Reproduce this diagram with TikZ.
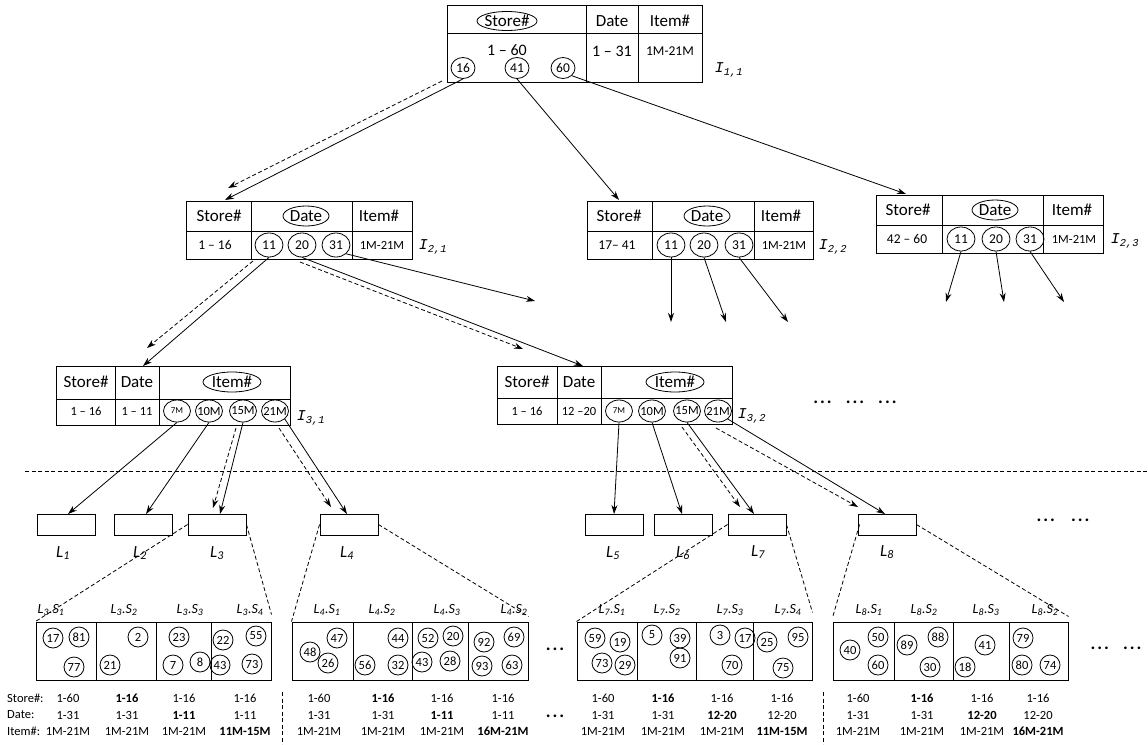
\documentclass[tikz,border=0pt]{standalone}
\usepackage{fontspec}
\setmainfont{Carlito}
\newfontfamily\monof{Liberation Mono}
\usetikzlibrary{arrows.meta,shapes.geometric,calc}
\newcommand{\LS}[2]{\textit{L\textsubscript{#1}.S\textsubscript{#2}}}
\newcommand{\Lf}[1]{\textit{L\textsubscript{#1}}}
\newcommand{\Ilab}[1]{{\monof\itshape I\textsubscript{#1}}}
\newcommand{\fs}[1]{\fontsize{#1}{#1}\selectfont}
\newcommand{\tdots}{.\kern2pt.\kern2pt.}
\begin{document}
\begin{tikzpicture}[x=1pt,y=-1pt,
  tb/.style={draw,line width=1pt},
  box/.style={draw,line width=1pt,inner sep=0pt},
  hd/.style={font=\fs{17},inner sep=0pt},
  na/.style={font=\fs{16},inner sep=0pt},
  nb/.style={font=\fs{13.5},inner sep=0pt},
  nc/.style={font=\fs{12.5},inner sep=0pt},
  ov/.style={draw,ellipse,line width=0.8pt,inner xsep=-6pt,inner ysep=-5pt,minimum width=24pt,minimum height=21pt,font=\fs{13.5}},
  ovb/.style={ov,minimum width=28pt,minimum height=24pt},
  ovc/.style={ov,minimum width=27pt,minimum height=22pt,font=\fs{12.5}},
  ar/.style={-{Stealth[length=9pt,width=6pt]},line width=0.8pt},
  dar/.style={ar,dash pattern=on 4pt off 2.5pt},
  dl/.style={line width=0.8pt,dash pattern=on 4pt off 2.5pt},
  leaf/.style={draw,line width=0.9pt,minimum width=58pt,minimum height=21pt,inner sep=0pt},
  sc/.style={draw,circle,line width=0.8pt,minimum size=20pt,inner sep=0pt,font=\fs{12.5}},
  sh/.style={font=\fs{14},inner sep=0pt},
  bt/.style={font=\fs{12.5},inner sep=0pt},
  lab/.style={font=\fs{15},inner sep=0pt},
  lfl/.style={font=\fs{17},inner sep=0pt},
  dots/.style={font=\fs{18}\bfseries,inner sep=0pt}]
\useasboundingbox (0,0) rectangle (1148,744);

% ---------------- I_{1,1}
\node[box,minimum width=255pt,minimum height=77pt] (N11) at (574.5,43.5) {};
\draw[tb] (447,33) -- (702,33) (586,5) -- (586,82) (638,5) -- (638,82);
\node[hd] (h11a) at (507,21) {Store\#};
\draw[line width=0.8pt] (h11a.center) ellipse [x radius=30pt,y radius=9.5pt];
\node[hd] (h11b) at (612,21) {Date};
\node[hd] (h11c) at (670,21) {Item\#};
\node[na] (v11a) at (507,50) {1 – 60};
\node[na] (v11b) at (612,51) {1 – 31};
\node[nb] (v11c) at (670,51) {1M-21M};
\node[ov] (c16) at (463,68) {16};
\node[ov] (c41) at (517,68) {41};
\node[ov] (c60) at (563,68) {60};
\node[lab] (I11) at (729,70) {\Ilab{1,1}};

% ---------------- I_{2,1}
\node[box,minimum width=226.5pt,minimum height=58pt] (N21) at (299.25,230) {};
\draw[tb] (186,231) -- (412.5,231) (251.7,201) -- (251.7,259) (352.5,201) -- (352.5,259);
\node[hd] (h21a) at (219,216) {Store\#};
\node[hd] (h21b) at (306,216) {Date};
\draw[line width=0.8pt] (h21b.center) ellipse [x radius=23pt,y radius=10pt];
\node[hd] (h21c) at (379,216) {Item\#};
\node[nb] (v21a) at (215,245) {1 – 16};
\node[ovb] (c21a) at (269,245) {11};
\node[ovb] (c21b) at (302,245) {20};
\node[ovb] (c21c) at (336,245) {31};
\node[nc] (v21b) at (382,245) {1M-21M};
\node[lab] (I21) at (433,247) {\Ilab{2,1}};

% ---------------- I_{2,2}
\node[box,minimum width=226pt,minimum height=58pt] (N22) at (700,230) {};
\draw[tb] (587,231) -- (813,231) (652,201) -- (652,259) (754.5,201) -- (754.5,259);
\node[hd] (h22a) at (619,216) {Store\#};
\node[hd] (h22b) at (707,216) {Date};
\draw[line width=0.8pt] (h22b.center) ellipse [x radius=23pt,y radius=10pt];
\node[hd] (h22c) at (781,216) {Item\#};
\node[nb] (v22a) at (617,245) {17– 41};
\node[ovb] (c22a) at (671,245) {11};
\node[ovb] (c22b) at (704,245) {20};
\node[ovb] (c22c) at (739,245) {31};
\node[nc] (v22b) at (784,245) {1M-21M};
\node[lab] (I22) at (833,247) {\Ilab{2,2}};

% ---------------- I_{2,3}
\node[box,minimum width=227pt,minimum height=58pt] (N23) at (989.5,224) {};
\draw[tb] (876,225) -- (1103,225) (942,195) -- (942,253) (1043,195) -- (1043,253);
\node[hd] (h23a) at (908,210) {Store\#};
\node[hd] (h23b) at (995,210) {Date};
\draw[line width=0.8pt] (h23b.center) ellipse [x radius=23pt,y radius=10pt];
\node[hd] (h23c) at (1072,210) {Item\#};
\node[nb] (v23a) at (907,239) {42 – 60};
\node[ovb] (c23a) at (961,239) {11};
\node[ovb] (c23b) at (996,239) {20};
\node[ovb] (c23c) at (1030,239) {31};
\node[nc] (v23b) at (1074,239) {1M-21M};
\node[lab] (I23) at (1125,241) {\Ilab{2,3}};

% ---------------- I_{3,1}
\node[box,minimum width=234pt,minimum height=59pt] (N31) at (173,395.5) {};
\draw[tb] (56,399) -- (290,399) (115,366) -- (115,425) (159.5,366) -- (159.5,425);
\node[hd] (h31a) at (86,382) {Store\#};
\node[hd] (h31b) at (137,382) {Date};
\node[hd] (h31c) at (232,382) {Item\#};
\draw[line width=0.8pt] (h31c.center) ellipse [x radius=29pt,y radius=10pt];
\node[nc] (v31a) at (86,411) {1 – 16};
\node[nc] (v31b) at (137,411) {1 – 11};
\node[ovc,font=\fs{9}] (c31a) at (177,411) {7M};
\node[ovc] (c31b) at (209,411) {10M};
\node[ovc] (c31c) at (243,411) {15M};
\node[ovc] (c31d) at (275,411) {21M};
\node[lab] (I31) at (311,418) {\Ilab{3,1}};

% ---------------- I_{3,2}
\node[box,minimum width=235pt,minimum height=58pt] (N32) at (614.5,395) {};
\draw[tb] (497,398) -- (732,398) (557,366) -- (557,424) (601,366) -- (601,424);
\node[hd] (h32a) at (527,382) {Store\#};
\node[hd] (h32b) at (579,382) {Date};
\node[hd] (h32c) at (675,382) {Item\#};
\draw[line width=0.8pt] (h32c.center) ellipse [x radius=29pt,y radius=10pt];
\node[nc] (v32a) at (527,411) {1 – 16};
\node[nc] (v32b) at (579,411) {12 –20};
\node[ovc,font=\fs{9}] (c32a) at (619,411) {7M};
\node[ovc] (c32b) at (652,411) {10M};
\node[ovc] (c32c) at (687,411) {15M};
\node[ovc] (c32d) at (718,411) {21M};
\node[lab] (I32) at (752,416) {\Ilab{3,2}};

\node[dots] (dm) at (855,402) {\tdots\hspace{14pt}\tdots\hspace{14pt}\tdots};

% ---------------- arrows level 1 -> 2
\coordinate (a21) at (225,200);
\coordinate (d1s) at (442,81);
\coordinate (d1e) at (228,188);
\coordinate (a22) at (619,200);
\coordinate (a23) at (906,194);
\draw[ar] (c16.south) -- (a21);
\draw[dar] (d1s) -- (d1e);
\draw[ar] (c41.south) -- (a22);
\draw[ar] (c60.south east) -- (a23);

% ---------------- arrows level 2 -> 3
\coordinate (a31) at (143,366);
\coordinate (d2s) at (253,261);
\coordinate (d2e) at (147,348);
\coordinate (a32) at (583,366);
\coordinate (d3s) at (300,262);
\coordinate (d3e) at (523,349);
\coordinate (a33) at (535,301);
\draw[ar] (c21a.south) -- (a31);
\draw[dar] (d2s) -- (d2e);
\draw[ar] (c21b.south) -- (a32);
\draw[dar] (d3s) -- (d3e);
\draw[ar] (c21c.south east) -- (a33);

\coordinate (b1) at (671,322);
\coordinate (b2) at (726,322);
\coordinate (b3) at (788,322);
\draw[ar] (c22a.south) -- (b1);
\draw[ar] (c22b.south) -- (b2);
\draw[ar] (c22c.south) -- (b3);
\coordinate (b4) at (946,302);
\coordinate (b5) at (1004,302);
\coordinate (b6) at (1064,302);
\draw[ar] (c23a.south) -- (b4);
\draw[ar] (c23b.south) -- (b5);
\draw[ar] (c23c.south) -- (b6);

% ---------------- separator
\coordinate (sepA) at (25,471);
\coordinate (sepB) at (1148,471);
\draw[dl] (sepA) -- (sepB);

% ---------------- leaves
\node[leaf] (L1) at (66,524.5) {};
\node[leaf] (L2) at (143.5,524.5) {};
\node[leaf] (L3) at (217,524.5) {};
\node[leaf] (L4) at (349,524.5) {};
\node[leaf] (L5) at (614,524.5) {};
\node[leaf] (L6) at (683,524.5) {};
\node[leaf] (L7) at (757,524.5) {};
\node[leaf] (L8) at (887,524.5) {};
\node[lfl] (l1) at (63,553) {\Lf{1}};
\node[lfl] (l2) at (140,553) {\Lf{2}};
\node[lfl] (l3) at (217,553) {\Lf{3}};
\node[lfl] (l4) at (347,553) {\Lf{4}};
\node[lfl] (l5) at (613,553) {\Lf{5}};
\node[lfl] (l6) at (683,553) {\Lf{6}};
\node[lfl] (l7) at (758,552) {\Lf{7}};
\node[lfl] (l8) at (887,552) {\Lf{8}};
\node[dots] (dl1) at (1063,520) {\tdots\hspace{16pt}\tdots};

% ---------------- arrows level 3 -> leaves
\coordinate (e1) at (68,514);
\coordinate (e2) at (146,514);
\coordinate (e3) at (220,514);
\coordinate (f3s) at (236,428);
\coordinate (f3e) at (213,508);
\coordinate (e4) at (347,514);
\coordinate (f4s) at (279,428);
\coordinate (f4e) at (331,507);
\draw[ar] (c31a.south) -- (e1);
\draw[ar] (c31b.south) -- (e2);
\draw[ar] (c31c.south) -- (e3);
\draw[dar] (f3s) -- (f3e);
\draw[ar] (c31d.south east) -- (e4);
\draw[dar] (f4s) -- (f4e);

\coordinate (e5) at (614,514);
\coordinate (e6) at (682,514);
\coordinate (e7) at (754,514);
\coordinate (f7s) at (682,427);
\coordinate (f7e) at (740,507);
\coordinate (e8) at (885,514);
\coordinate (f8s) at (716,428);
\coordinate (f8e) at (858,507);
\draw[ar] (c32a.south) -- (e5);
\draw[ar] (c32b.south) -- (e6);
\draw[ar] (c32c.south) -- (e7);
\draw[dar] (f7s) -- (f7e);
\draw[ar] (c32d.south east) -- (e8);
\draw[dar] (f8s) -- (f8e);

% ---------------- leaf tables
\node[box,minimum width=235pt,minimum height=58pt] (T1) at (153.5,651) {};
\draw[tb] (96.7,622) -- (96.7,680) (156.7,622) -- (156.7,680) (211.7,622) -- (211.7,680);
\node[box,minimum width=236pt,minimum height=58pt] (T2) at (410,651) {};
\draw[tb] (353.3,622) -- (353.3,680) (412.7,622) -- (412.7,680) (468.3,622) -- (468.3,680);
\node[box,minimum width=235pt,minimum height=58pt] (T3) at (694.5,651) {};
\draw[tb] (637.7,622) -- (637.7,680) (696.7,622) -- (696.7,680) (753.3,622) -- (753.3,680);
\node[box,minimum width=235pt,minimum height=58pt] (T4) at (950.5,651) {};
\draw[tb] (894.3,622) -- (894.3,680) (953.3,622) -- (953.3,680) (1009.3,622) -- (1009.3,680);

% expansion dashed lines
\draw[dl] (L3.west) -- (T1.north west);
\draw[dl] (L3.east) -- ($(T1.north east)+(0,-7)$);
\draw[dl] (L4.west) -- (T2.north west);
\draw[dl] (L4.east) -- ($(T2.north east)+(0,-5)$);
\draw[dl] (L7.west) -- (T3.north west);
\draw[dl] (L7.east) -- ($(T3.north east)+(0,-9)$);
\draw[dl] ($(L8.west)+(2,0)$) -- ($(T4.north west)+(0,-4)$);
\draw[dl] (L8.east) -- ($(T4.north east)+(0,-5)$);

% headers
\foreach \a/\b/\x [count=\i] in {3/1/51,3/2/124,3/3/190,3/4/250,
  4/1/327,4/2/382,4/3/447,4/2/514,
  7/1/612,7/2/667,7/3/730,7/4/788,
  8/1/869,8/2/924,8/3/986,8/2/1045}
  \node[sh] (hs\i) at (\x,610) {\LS{\a}{\b}};

% circles in tables
\foreach \n/\x/\y [count=\i] in {17/53/638,81/79/637,77/74/667,2/138/637,21/110/665,
  23/179/637,7/173/665,8/200/662,22/223/640,55/256/636,43/220/665,73/252/664,
  48/310/652,47/337/638,26/328/663,44/398/638,56/365/665,32/398/665,
  52/428/638,20/453/636,43/422/662,28/450/661,92/484/642,69/514/637,93/482/666,63/512/665,
  59/595/638,19/620/642,73/602/663,29/625/665,5/652/635,39/680/638,91/680/658,
  3/720/635,17/745/638,70/732/665,25/767/642,95/798/637,75/783/668,
  40/850/650,50/878/637,60/878/665,89/907/645,88/938/637,30/930/667,
  41/985/645,18/965/667,79/1023/638,80/1022/665,74/1050/665}
  \node[sc] (sc\i) at (\x,\y) {\n};

\node[dots] (dt1) at (555,649) {\tdots};
\node[dots] (dt2) at (1116,648) {\tdots\hspace{14pt}\tdots};

% bottom rows
\node[bt,anchor=west] (rs) at (7,698) {Store\#:};
\node[bt,anchor=west] (rd) at (7,715) {Date:};
\node[bt,anchor=west] (ri) at (7,731) {Item\#:};

\foreach \x/\a/\b/\c [count=\i] in {
  68/1-60/1-31/1M-21M,
  127/\textbf{1-16}/1-31/1M-21M,
  184/1-16/\textbf{1-11}/1M-21M,
  245/1-16/1-11/\textbf{11M-15M},
  319/1-60/1-31/1M-21M,
  383/\textbf{1-16}/1-31/1M-21M,
  442/1-16/\textbf{1-11}/1M-21M,
  503/1-16/1-11/\textbf{16M-21M},
  603/1-60/1-31/1M-21M,
  663/\textbf{1-16}/1-31/1M-21M,
  722/1-16/\textbf{12-20}/1M-21M,
  782/1-16/12-20/\textbf{11M-15M},
  858/1-60/1-31/1M-21M,
  922/\textbf{1-16}/1-31/1M-21M,
  982/1-16/\textbf{12-20}/1M-21M,
  1038/1-16/12-20/\textbf{16M-21M}}
{
  \node[bt] (bs\i) at (\x,698) {\a};
  \node[bt] (bd\i) at (\x,715) {\b};
  \node[bt] (bi\i) at (\x,731) {\c};
}
\node[dots] (dt3) at (555,716) {\tdots};

\coordinate (vA1) at (282,692);
\coordinate (vA2) at (282,744);
\coordinate (vB1) at (823,692);
\coordinate (vB2) at (823,744);
\draw[dl] (vA1) -- (vA2);
\draw[dl] (vB1) -- (vB2);
\end{tikzpicture}
\end{document}
